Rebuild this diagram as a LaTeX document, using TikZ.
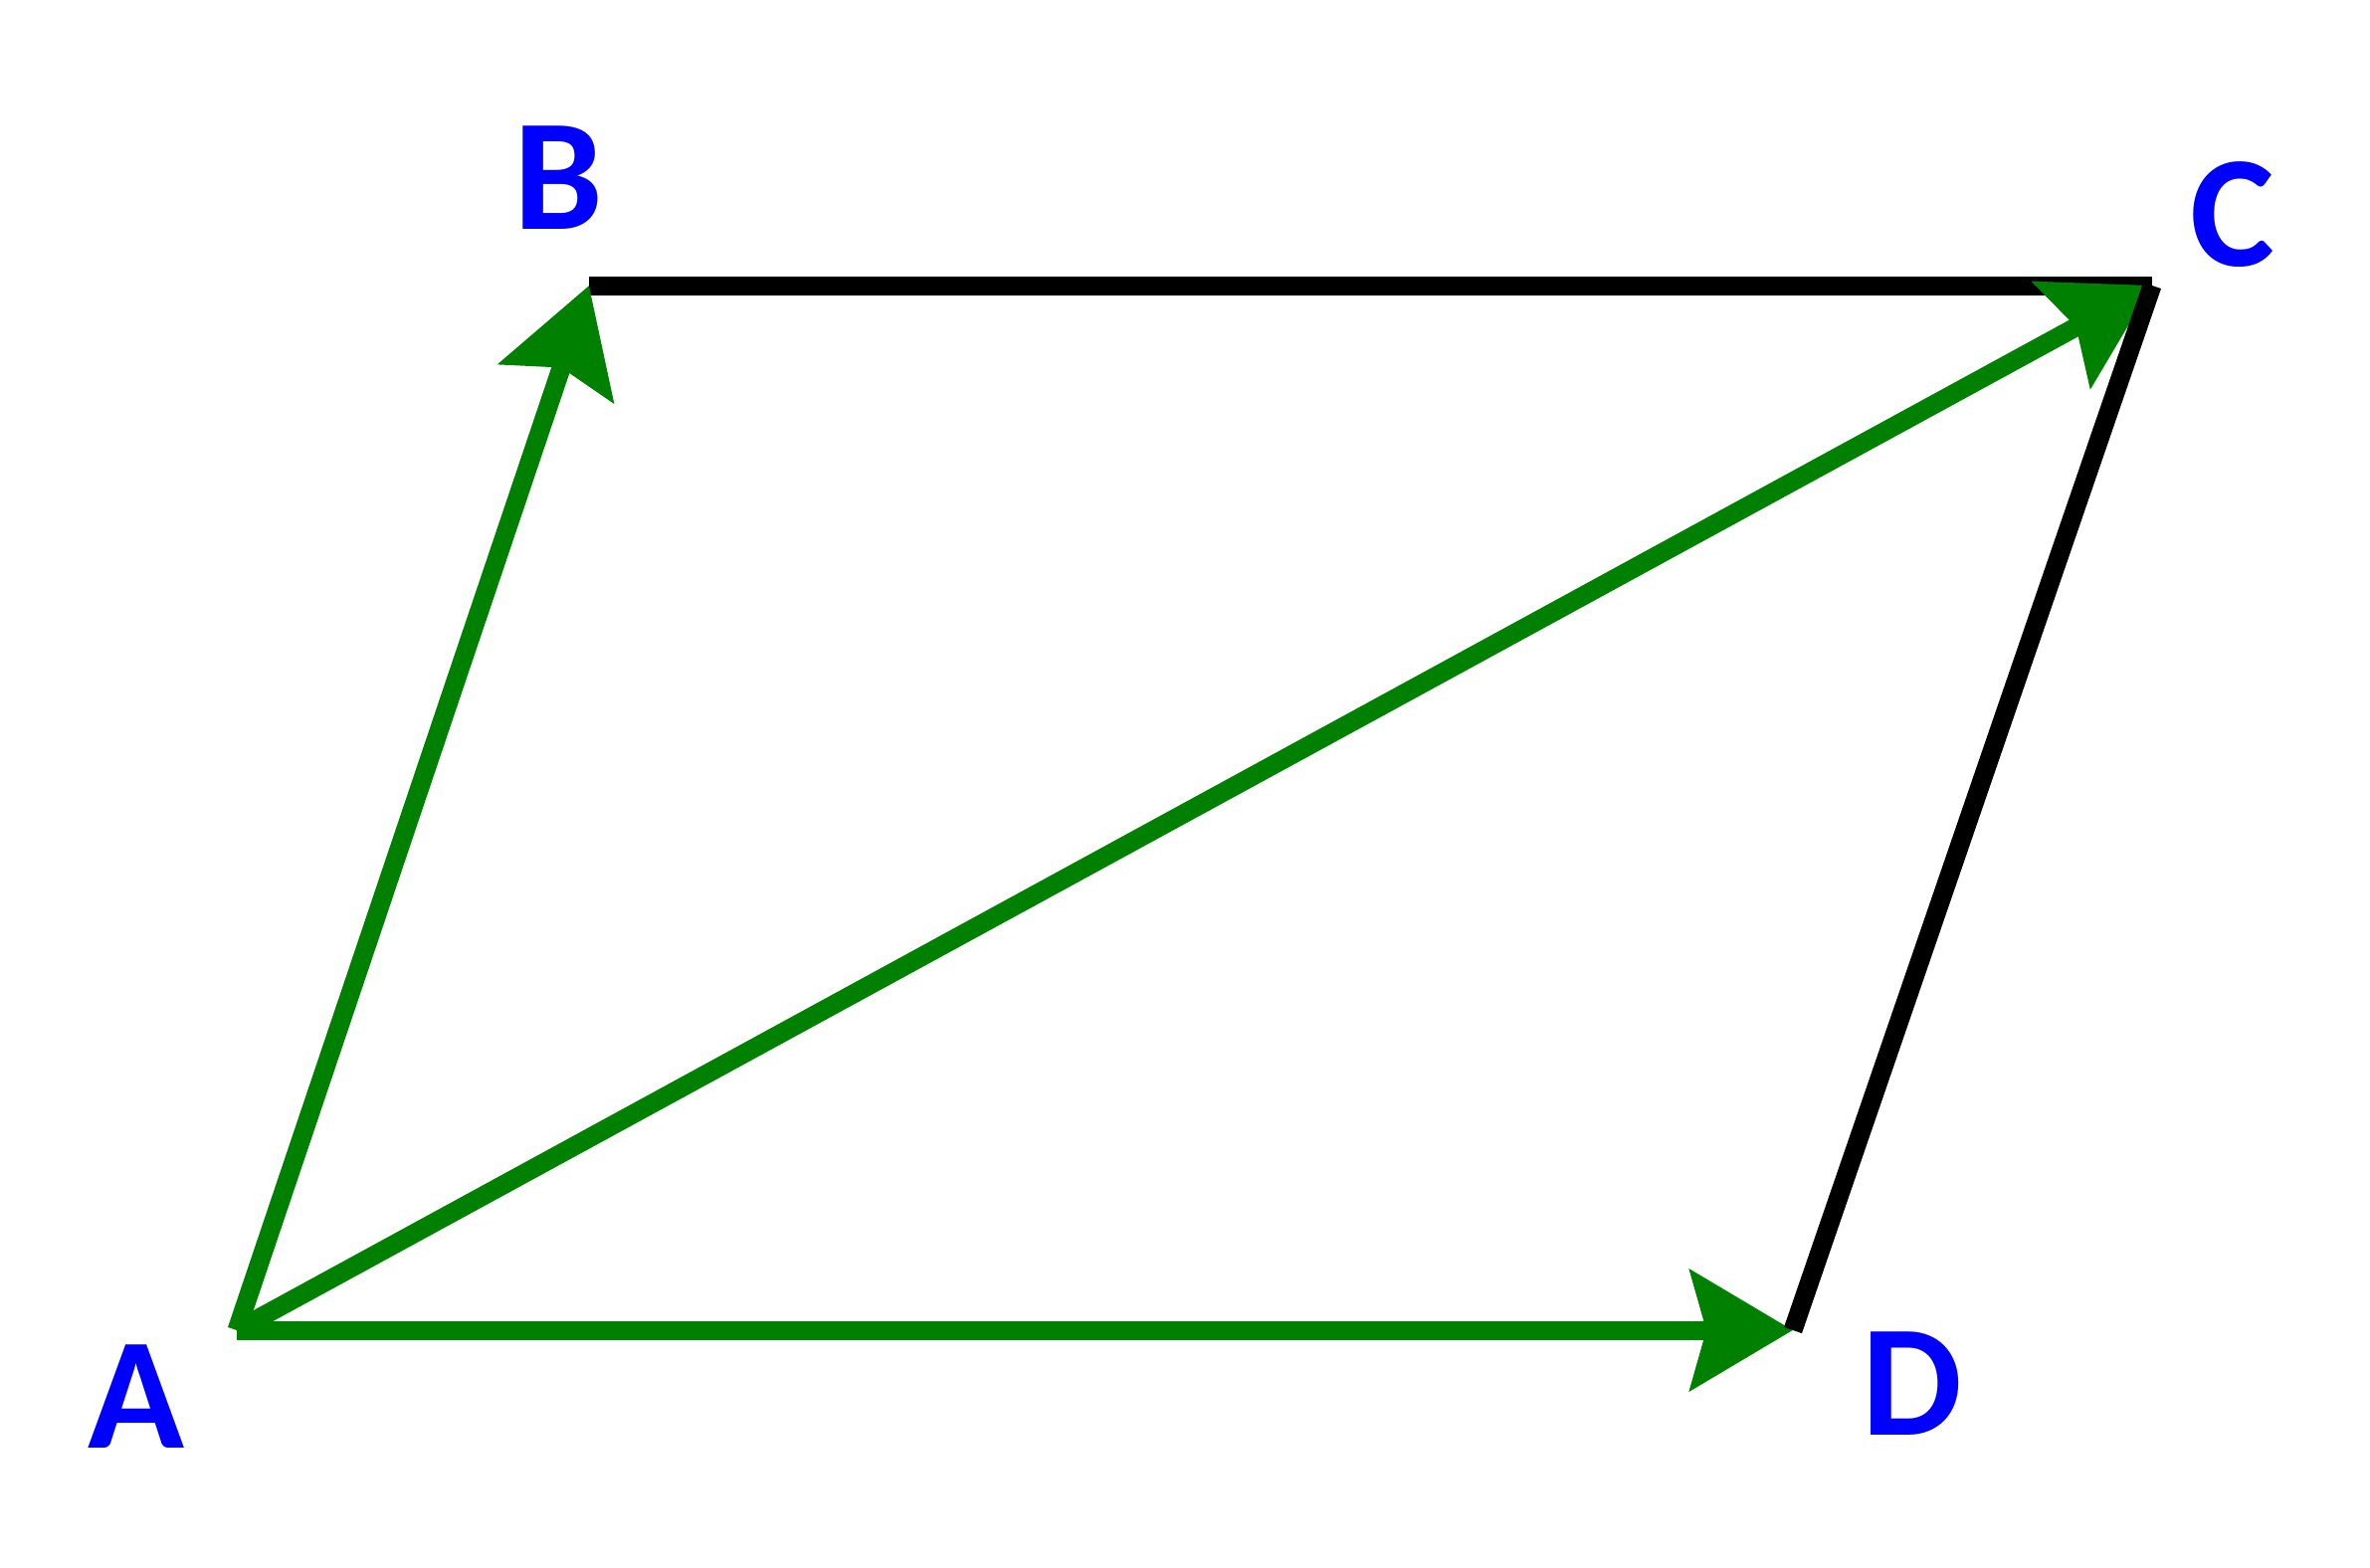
\documentclass[tikz,border=0pt]{standalone}
\usepackage{fontspec}
\setmainfont{Carlito}
\usetikzlibrary{arrows.meta}
\definecolor{vgreen}{RGB}{0,128,0}
\begin{document}
\begin{tikzpicture}[x=1pt,y=-1pt,
  vec/.style={draw=vgreen, line width=19pt, -{Stealth[length=103pt,width=120pt,inset=16pt]}},
  side/.style={draw=black, line width=19pt},
  lab/.style={text=blue, font=\fontsize{160}{162}\selectfont\bfseries, inner sep=0pt}]
\useasboundingbox (0,0) rectangle (2382,1576);
\coordinate (A) at (238,1337);
\coordinate (B) at (592,287);
\coordinate (C) at (2163,287);
\coordinate (D) at (1802,1337);
\draw[side] (B) -- (C);
\draw[vec] (A) -- (B);
\draw[vec] (A) -- (C);
\draw[vec] (A) -- (D);
\draw[side] (C) -- (D);
\node[lab] (lA) at (137,1404) {A};
\node[lab] (lB) at (561,179) {B};
\node[lab] (lC) at (2244,216) {C};
\node[lab] (lD) at (1922,1391) {D};
\end{tikzpicture}
\end{document}
